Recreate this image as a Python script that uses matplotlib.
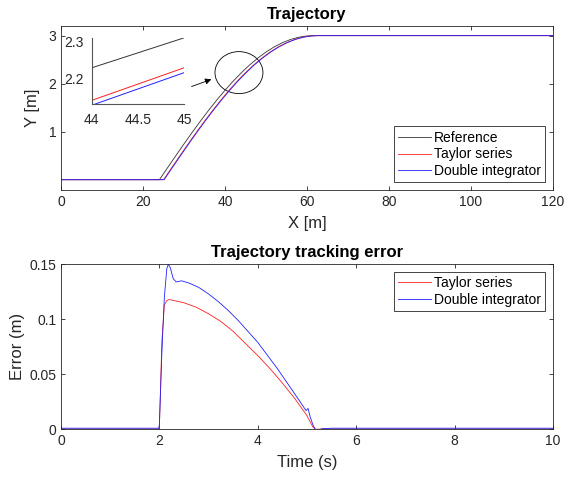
import matplotlib
matplotlib.use('Agg')
import matplotlib.pyplot as plt
from matplotlib.patches import Ellipse
from matplotlib.ticker import FormatStrFormatter

plt.rcParams['font.family'] = ['Liberation Sans', 'DejaVu Sans']

# trajectory, y shared by all three paths
path_y = [0, 0, 0.251, 0.500, 0.746, 0.987, 1.220, 1.445, 1.660, 1.863, 2.054,
          2.229, 2.390, 2.533, 2.659, 2.766, 2.853, 2.921, 2.968, 2.994, 3.0, 3.0]
ref_x = [0, 24, 26, 28, 30, 32, 34, 36, 38, 40, 42,
         44, 46, 48, 50, 52, 54, 56, 58, 60, 61.5, 120]
taylor_x = [0, 25, 27, 29, 31, 33, 35, 37, 39, 41, 43,
            45, 47, 49, 51, 53, 55, 57, 59, 61, 62.5, 120]
dbl_x = [0, 25.15, 27.15, 29.15, 31.15, 33.15, 35.15, 37.15, 39.15, 41.15, 43.15,
         45.15, 47.15, 49.15, 51.15, 53.15, 55.15, 57.15, 59.15, 61.15, 62.6, 120]

# tracking error
t_taylor = [0, 1.99, 2.0, 2.05, 2.1, 2.15, 2.2, 2.3, 2.5, 2.75, 3.0, 3.25, 3.5,
            3.84, 4.0, 4.25, 4.5, 4.75, 4.99, 5.05, 5.12, 5.18, 5.3, 10]
e_taylor = [0.0003, 0.0003, 0.003, 0.08, 0.113, 0.117, 0.118, 0.117, 0.115, 0.111,
            0.105, 0.098, 0.089, 0.074, 0.067, 0.055, 0.042, 0.028, 0.013, 0.008,
            0.002, 0.0, 0.0003, 0.0003]
t_dbl = [0, 1.99, 2.0, 2.05, 2.1, 2.15, 2.18, 2.22, 2.28, 2.34, 2.45, 2.6, 2.8,
         3.0, 3.2, 3.4, 3.6, 3.8, 4.0, 4.2, 4.4, 4.6, 4.8, 4.98, 5.02, 5.06,
         5.12, 5.18, 5.23, 5.3, 5.5, 10]
e_dbl = [0.001, 0.001, 0.005, 0.07, 0.12, 0.146, 0.150, 0.147, 0.137, 0.134, 0.135,
         0.133, 0.129, 0.123, 0.116, 0.108, 0.099, 0.089, 0.079, 0.067, 0.055,
         0.042, 0.029, 0.017, 0.019, 0.012, 0.004, -0.001, -0.001, 0.0005, 0.001, 0.001]

edge = '#262626'
c_ref, c_tay, c_dbl = '#333333', '#ff2020', '#2020ff'
lw = 0.6

def matlab_style(ax):
    for s in ax.spines.values():
        s.set_color(edge)
        s.set_linewidth(0.6)
    ax.tick_params(direction='in', top=True, right=True, length=3, width=0.6,
                   color=edge, labelcolor=edge, labelsize=10)

def add_legend(ax, loc):
    leg = ax.legend(loc=loc, fontsize=10, fancybox=False, framealpha=1,
                    edgecolor=edge, handlelength=2.4, borderpad=0.3, labelspacing=0.2,
                    handletextpad=0.2, borderaxespad=0.55)
    leg.get_frame().set_linewidth(0.6)

fig = plt.figure(figsize=(5.66, 4.84), dpi=100)

# top: trajectory
ax1 = fig.add_axes([0.1078, 0.6074, 0.8693, 0.3388])
ax1.plot(ref_x, path_y, color=c_ref, lw=lw, label='Reference')
ax1.plot(taylor_x, path_y, color=c_tay, lw=lw, label='Taylor series')
ax1.plot(dbl_x, path_y, color=c_dbl, lw=lw, label='Double integrator')
ax1.set_xlim(0, 120)
ax1.set_ylim(-0.215, 3.2)
ax1.set_xticks(range(0, 121, 20))
ax1.set_yticks([1, 2, 3])
matlab_style(ax1)
ax1.set_title('Trajectory', fontsize=12, fontweight='bold', pad=5)
ax1.set_xlabel('X [m]', fontsize=12, color=edge, labelpad=5)
ax1.set_ylabel('Y [m]', fontsize=12, color=edge, labelpad=6)
add_legend(ax1, 'lower right')

ax1.add_patch(Ellipse((43.4, 2.23), 11.7, 0.875, fill=False, ec='k', lw=0.6))
ax1.annotate('', xy=(37.3, 2.11), xytext=(31.2, 1.92),
             arrowprops=dict(arrowstyle='-|>', color='k', lw=0.6, mutation_scale=9))

# inset zoom
axi = fig.add_axes([0.162, 0.7845, 0.163, 0.1376])
axi.plot(ref_x, path_y, color=c_ref, lw=0.7)
axi.plot(taylor_x, path_y, color=c_tay, lw=0.7)
axi.plot(dbl_x, path_y, color=c_dbl, lw=0.7)
axi.set_xlim(44, 45)
axi.set_ylim(2.131, 2.31)
axi.set_xticks([44, 44.5, 45])
axi.set_xticklabels(['44', '44.5', '45'])
axi.set_yticks([2.2, 2.3])
axi.set_yticklabels(['2.2', '2.3'])
for side in ['top', 'right']:
    axi.spines[side].set_visible(False)
for side in ['left', 'bottom']:
    axi.spines[side].set_color('#555555')
    axi.spines[side].set_linewidth(0.8)
axi.tick_params(length=0, labelsize=10, labelcolor=edge, pad=6)

# bottom: tracking error
ax2 = fig.add_axes([0.1078, 0.1130, 0.8693, 0.3409])
ax2.plot(t_taylor, e_taylor, color=c_tay, lw=lw, label='Taylor series')
ax2.plot(t_dbl, e_dbl, color=c_dbl, lw=lw, label='Double integrator')
ax2.set_xlim(0, 10)
ax2.set_ylim(0, 0.15)
ax2.set_xticks(range(0, 11, 2))
ax2.set_yticks([0, 0.05, 0.1, 0.15])
ax2.yaxis.set_major_formatter(FormatStrFormatter('%g'))
matlab_style(ax2)
ax2.set_title('Trajectory tracking error', fontsize=12, fontweight='bold', pad=5)
ax2.set_xlabel('Time (s)', fontsize=12, color=edge, labelpad=5)
ax2.set_ylabel('Error (m)', fontsize=12, color=edge, labelpad=3)
add_legend(ax2, 'upper right')

fig.savefig('out.png', dpi=100)
